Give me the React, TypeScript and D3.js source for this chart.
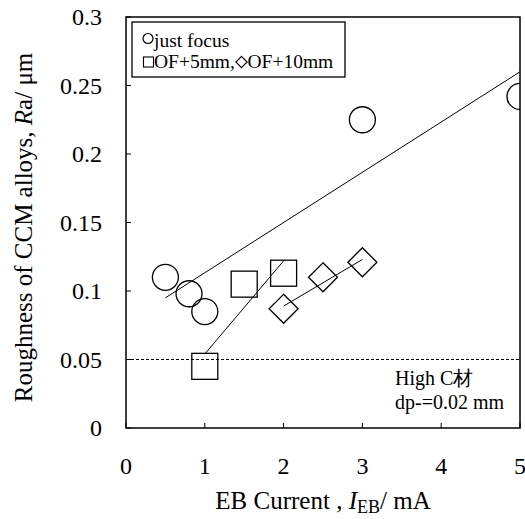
import React from "react";
import * as d3 from "d3";

const width = 525;
const height = 519;
const margin = { top: 17, right: 5, bottom: 91, left: 126 };
const font = "'Times New Roman', Times, 'Liberation Serif', 'DejaVu Serif', serif";

// just focus
const focusX = [0.5, 0.8, 1.0, 3.0, 5.0];
const focusY = [0.11, 0.098, 0.085, 0.225, 0.242];
// OF+5mm
const of5X = [1.0, 1.5, 2.0];
const of5Y = [0.045, 0.105, 0.113];
// OF+10mm
const of10X = [2.0, 2.5, 3.0];
const of10Y = [0.087, 0.11, 0.121];

// fitted lines, end points
const focusFitX = [0.5, 5.0];
const focusFitY = [0.095, 0.26];
const of5FitX = [1.0, 2.0];
const of5FitY = [0.054, 0.122];
const of10FitX = [2.0, 3.0];
const of10FitY = [0.089, 0.123];

const refLevel = 0.05;

const xTicks = [0, 1, 2, 3, 4, 5];
const xTickLabels = ["0", "1", "2", "3", "4", "5"];
const yTicks = [0, 0.05, 0.1, 0.15, 0.2, 0.25, 0.3];
const yTickLabels = ["0", "0.05", "0.1", "0.15", "0.2", "0.25", "0.3"];

const diamond = (cx: number, cy: number, h: number) =>
  `M${cx},${cy - h}L${cx + h},${cy}L${cx},${cy + h}L${cx - h},${cy}Z`;

const App = () => {
  const innerWidth = width - margin.left - margin.right;
  const innerHeight = height - margin.top - margin.bottom;

  const x = d3.scaleLinear().domain([0, 5]).range([0, innerWidth]);
  const y = d3.scaleLinear().domain([0, 0.3]).range([innerHeight, 0]);

  const line = d3
    .line<[number, number]>()
    .x((d) => x(d[0]))
    .y((d) => y(d[1]));

  const fit = (xs: number[], ys: number[]) =>
    line(xs.map((v, i) => [v, ys[i]] as [number, number])) || "";

  const r = 13;
  const sq = 26;
  const dm = 14.5;

  return (
    <svg
      width={width}
      height={height}
      style={{ position: "absolute", left: 0, top: 0, background: "#fff" }}
    >
      <defs>
        <clipPath id="plot">
          <rect x={0} y={0} width={innerWidth} height={innerHeight} />
        </clipPath>
      </defs>
      <g transform={`translate(${margin.left},${margin.top})`}>
        <g clipPath="url(#plot)">
          <line
            x1={0}
            x2={innerWidth}
            y1={y(refLevel)}
            y2={y(refLevel)}
            stroke="#000"
            strokeWidth={1}
            strokeDasharray="3,2"
          />
          <path d={fit(focusFitX, focusFitY)} stroke="#000" fill="none" />
          <path d={fit(of5FitX, of5FitY)} stroke="#000" fill="none" />
          <path d={fit(of10FitX, of10FitY)} stroke="#000" fill="none" />

          {focusX.map((v, i) => (
            <circle
              key={"c" + i}
              cx={x(v)}
              cy={y(focusY[i])}
              r={r}
              fill="none"
              stroke="#000"
              strokeWidth={1.3}
            />
          ))}
          {of5X.map((v, i) => (
            <rect
              key={"s" + i}
              x={x(v) - sq / 2}
              y={y(of5Y[i]) - sq / 2}
              width={sq}
              height={sq}
              fill="none"
              stroke="#000"
              strokeWidth={1.3}
            />
          ))}
          {of10X.map((v, i) => (
            <path
              key={"d" + i}
              d={diamond(x(v), y(of10Y[i]), dm)}
              fill="none"
              stroke="#000"
              strokeWidth={1.3}
            />
          ))}
        </g>

        {/* frame */}
        <rect
          x={0}
          y={0}
          width={innerWidth}
          height={innerHeight}
          fill="none"
          stroke="#000"
          strokeWidth={1.5}
        />

        {/* y ticks */}
        {yTicks.map((t, i) => (
          <React.Fragment key={"y" + i}>
            <line x1={0} x2={5} y1={y(t)} y2={y(t)} stroke="#000" />
            <text
              x={-24}
              y={y(t)}
              dy="0.35em"
              textAnchor="end"
              fontSize={24}
              fontFamily={font}
            >
              {yTickLabels[i]}
            </text>
          </React.Fragment>
        ))}

        {/* x ticks */}
        {xTicks.map((t, i) => (
          <React.Fragment key={"x" + i}>
            <line
              x1={x(t)}
              x2={x(t)}
              y1={innerHeight}
              y2={innerHeight - 5}
              stroke="#000"
            />
            <text
              x={x(t)}
              y={innerHeight + 38}
              dy="0.35em"
              textAnchor="middle"
              fontSize={24}
              fontFamily={font}
            >
              {xTickLabels[i]}
            </text>
          </React.Fragment>
        ))}

        {/* legend */}
        <rect
          x={6}
          y={5}
          width={213}
          height={55}
          fill="#fff"
          stroke="#000"
          strokeWidth={1.3}
        />
        <circle cx={22} cy={21.5} r={5} fill="none" stroke="#000" strokeWidth={1.2} />
        <text x={28} y={29.5} fontSize={19.5} fontFamily={font}>
          just focus
        </text>
        <rect x={17.5} y={40} width={10} height={10} fill="none" stroke="#000" strokeWidth={1.1} />
        <text x={28} y={50.5} fontSize={19.5} fontFamily={font}>
          OF+5mm,
        </text>
        <path d={diamond(115.5, 45, 5.6)} fill="none" stroke="#000" strokeWidth={1.2} />
        <text x={121.5} y={50.5} fontSize={19.5} fontFamily={font}>
          OF+10mm
        </text>

        {/* annotation */}
        <text x={269} y={368} fontSize={20} fontFamily={font}>
          High C材
        </text>
        <text x={269} y={392} fontSize={20} fontFamily={font}>
          dp-=0.02 mm
        </text>
      </g>

      {/* axis titles */}
      <text x={323} y={509} textAnchor="middle" fontSize={25} fontFamily={font}>
        EB Current ,{" "}
        <tspan fontStyle="italic">I</tspan>
        <tspan fontSize={18} dy={4}>EB</tspan>
        <tspan dy={-4}>/ mA</tspan>
      </text>
      <text
        transform={`translate(32,227.5) rotate(-90)`}
        textAnchor="middle"
        fontSize={25}
        fontFamily={font}
      >
        Roughness of CCM alloys, <tspan fontStyle="italic">R</tspan>a/ μm
      </text>
    </svg>
  );
};

export default App;
